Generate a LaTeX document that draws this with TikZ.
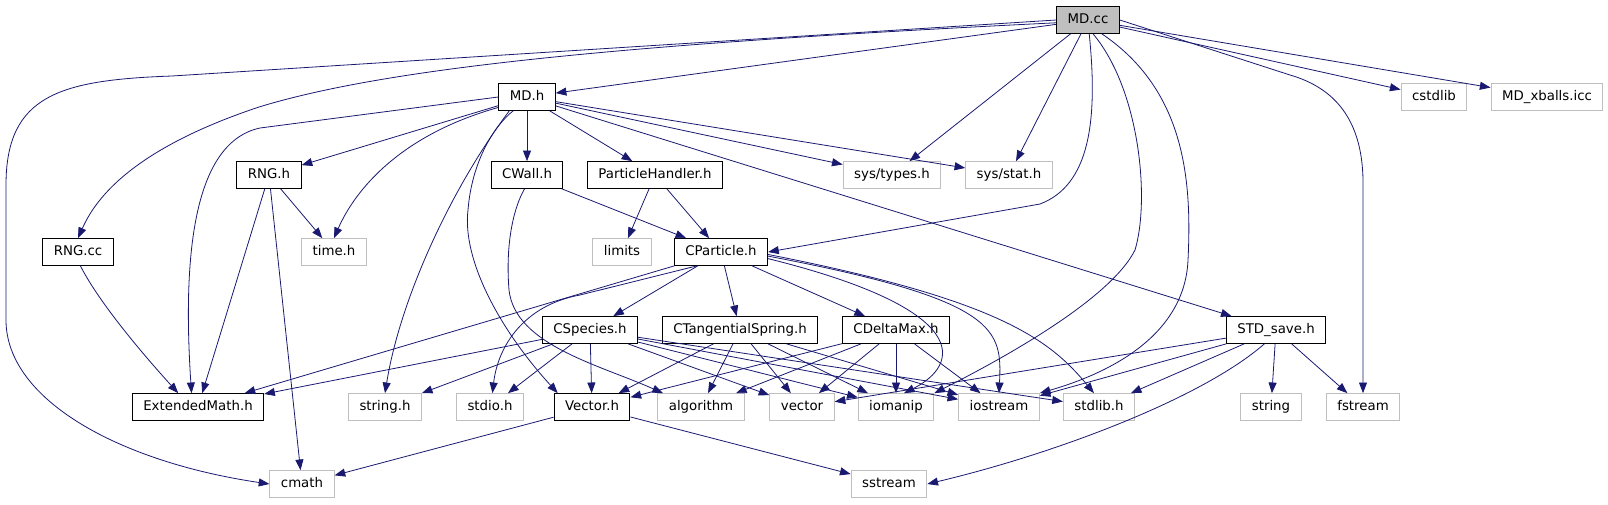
\documentclass[tikz,border=0pt]{standalone}
\usepackage{fontspec}
\setmainfont{DejaVu Sans}
\usepackage{tikz}
\usetikzlibrary{positioning, calc, arrows.meta}
\definecolor{edgeblue}{RGB}{25,25,112}
\definecolor{extgray}{RGB}{191,191,191}
\definecolor{rootgray}{RGB}{191,191,191}

\begin{document}
\begin{tikzpicture}[x=0.75pt, y=-0.75pt,
    >={Triangle[length=8pt,width=6pt]},
    file/.style={draw=black, fill=white, line width=.75pt, font=\fontsize{10}{12}\selectfont,
      inner xsep=8.25pt, inner ysep=0pt, minimum height=20pt, text height=7.5pt, text depth=2pt},
    ext/.style={file, draw=extgray},
    root/.style={file, fill=rootgray},
    dep/.style={<-, draw=edgeblue, line width=.6pt}]
      \useasboundingbox (0,0) rectangle (1608,504);

      \node[root] (INC1) at (1088,20) {MD.cc};

      \node[file] (INC2) at (527,97) {MD.h};
      \node[ext] (INC3) at (1434,97) {cstdlib};
      \node[ext] (INC4) at (1547,97) {MD\_xballs.icc};

      \node[file] (INC5) at (269,175) {RNG.h};
      \node[file] (INC6) at (527,175) {CWall.h};
      \node[file] (INC7) at (655,175) {ParticleHandler.h};
      \node[ext] (INC8) at (892,175) {sys/types.h};
      \node[ext] (INC9) at (1009,175) {sys/stat.h};

      \node[file] (INC10) at (78,252) {RNG.cc};
      \node[ext] (INC11) at (334,252) {time.h};
      \node[ext] (INC12) at (622,252) {limits};
      \node[file] (INC13) at (721,252) {CParticle.h};

      \node[file] (INC14) at (590,330) {CSpecies.h};
      \node[file] (INC15) at (740,330) {CTangentialSpring.h};
      \node[file] (INC16) at (896,330) {CDeltaMax.h};
      \node[file] (INC17) at (1276,330) {STD\_save.h};

      \node[file] (INC18) at (198,407) {ExtendedMath.h};
      \node[ext] (INC19) at (385,407) {string.h};
      \node[ext] (INC20) at (490,407) {stdio.h};
      \node[file] (INC21) at (592,407) {Vector.h};
      \node[ext] (INC22) at (701,407) {algorithm};
      \node[ext] (INC23) at (802,407) {vector};
      \node[ext] (INC24) at (896,407) {iomanip};
      \node[ext] (INC25) at (999,407) {iostream};
      \node[ext] (INC26) at (1099,407) {stdlib.h};
      \node[ext] (INC27) at (1271,407) {string};
      \node[ext] (INC28) at (1363,407) {fstream};

      \node[ext] (INC29) at (302,484) {cmath};
      \node[ext] (INC30) at (889,484) {sstream};

      % MD.cc
      \draw[dep] (node cs:name=INC2) -- (node cs:name=INC1);
      \draw[dep] (node cs:name=INC29, anchor=west) .. controls (120,462) and (6,400) .. (6,320) -- (6,185) .. controls (6,95) and (60,80) .. (172,76) -- (node cs:name=INC1, anchor=west);
      \draw[dep] (node cs:name=INC10, anchor=north) .. controls (95,200) and (130,150) .. (259,107) .. controls (380,70) and (600,45) .. (node cs:name=INC1, angle=185);
      \draw[dep] (node cs:name=INC8) -- (node cs:name=INC1);
      \draw[dep] (node cs:name=INC9) -- (node cs:name=INC1);
      \draw[dep] (node cs:name=INC13, anchor=east) -- (1040,204) .. controls (1090,185) and (1098,120) .. (node cs:name=INC1, angle=-85);
      \draw[dep] (node cs:name=INC24, anchor=north east) .. controls (1000,360) and (1110,300) .. (1135,250) .. controls (1150,200) and (1140,90) .. (node cs:name=INC1, angle=-70);
      \draw[dep] (node cs:name=INC25, anchor=north east) .. controls (1120,370) and (1185,330) .. (1188,260) .. controls (1192,180) and (1185,90) .. (node cs:name=INC1, angle=-45);
      \draw[dep] (node cs:name=INC28) -- (1363,180) .. controls (1362,120) and (1335,88) .. (1290,75) -- (node cs:name=INC1, anchor=east);
      \draw[dep] (node cs:name=INC3) -- (node cs:name=INC1);
      \draw[dep] (node cs:name=INC4) -- (node cs:name=INC1);

      % MD.h
      \draw[dep] (node cs:name=INC5) -- (node cs:name=INC2);
      \draw[dep] (node cs:name=INC11, anchor=north) .. controls (355,190) and (400,135) .. (node cs:name=INC2, angle=200);
      \draw[dep] (node cs:name=INC18, angle=115) .. controls (182,250) and (195,142) .. (260,128) -- (node cs:name=INC2, anchor=west);
      \draw[dep] (node cs:name=INC19, anchor=north) .. controls (400,300) and (450,190) .. (node cs:name=INC2, angle=218);
      \draw[dep] (node cs:name=INC21, angle=158) .. controls (500,330) and (462,260) .. (468,210) .. controls (472,160) and (495,125) .. (node cs:name=INC2, angle=225);
      \draw[dep] (node cs:name=INC6) -- (node cs:name=INC2);
      \draw[dep] (node cs:name=INC7) -- (node cs:name=INC2);
      \draw[dep] (node cs:name=INC8) -- (node cs:name=INC2);
      \draw[dep] (node cs:name=INC9) -- (node cs:name=INC2);
      \draw[dep] (node cs:name=INC17) -- (node cs:name=INC2);

      % RNG.h, RNG.cc
      \draw[dep] (node cs:name=INC18) -- (node cs:name=INC5);
      \draw[dep] (node cs:name=INC29) -- (node cs:name=INC5);
      \draw[dep] (node cs:name=INC11) -- (node cs:name=INC5);
      \draw[dep] (node cs:name=INC18, angle=145) .. controls (130,340) and (95,295) .. (node cs:name=INC10, angle=-80);

      % CWall.h, ParticleHandler.h
      \draw[dep] (node cs:name=INC13) -- (node cs:name=INC6);
      \draw[dep] (node cs:name=INC22, angle=160) .. controls (600,365) and (515,345) .. (509,290) .. controls (505,240) and (515,205) .. (node cs:name=INC6, angle=-100);
      \draw[dep] (node cs:name=INC12) -- (node cs:name=INC7);
      \draw[dep] (node cs:name=INC13) -- (node cs:name=INC7);

      % CParticle.h
      \draw[dep] (node cs:name=INC18) -- (node cs:name=INC13);
      \draw[dep] (node cs:name=INC20, angle=80) .. controls (498,345) and (525,305) .. (580,295) -- (node cs:name=INC13, angle=-150);
      \draw[dep] (node cs:name=INC14) -- (node cs:name=INC13);
      \draw[dep] (node cs:name=INC15) -- (node cs:name=INC13);
      \draw[dep] (node cs:name=INC16) -- (node cs:name=INC13);
      \draw[dep] (node cs:name=INC24, angle=60) .. controls (960,365) and (975,310) .. (node cs:name=INC13, angle=-8);
      \draw[dep] (node cs:name=INC25, anchor=north) .. controls (1002,330) and (1000,300) .. (node cs:name=INC13, angle=-5);
      \draw[dep] (node cs:name=INC26, angle=110) .. controls (1050,340) and (1000,300) .. (node cs:name=INC13, angle=-3);

      % CSpecies.h
      \draw[dep] (node cs:name=INC18) -- (node cs:name=INC14);
      \draw[dep] (node cs:name=INC19) -- (node cs:name=INC14);
      \draw[dep] (node cs:name=INC20) -- (node cs:name=INC14);
      \draw[dep] (node cs:name=INC21) -- (node cs:name=INC14);
      \draw[dep] (node cs:name=INC23) -- (node cs:name=INC14);
      \draw[dep] (node cs:name=INC24) -- (node cs:name=INC14);
      \draw[dep] (node cs:name=INC25) -- (node cs:name=INC14);
      \draw[dep] (node cs:name=INC26) -- (node cs:name=INC14);

      % CTangentialSpring.h
      \draw[dep] (node cs:name=INC21) -- (node cs:name=INC15);
      \draw[dep] (node cs:name=INC22) -- (node cs:name=INC15);
      \draw[dep] (node cs:name=INC23) -- (node cs:name=INC15);
      \draw[dep] (node cs:name=INC24) -- (node cs:name=INC15);
      \draw[dep] (node cs:name=INC25) -- (node cs:name=INC15);

      % CDeltaMax.h
      \draw[dep] (node cs:name=INC21) -- (node cs:name=INC16);
      \draw[dep] (node cs:name=INC22) -- (node cs:name=INC16);
      \draw[dep] (node cs:name=INC23) -- (node cs:name=INC16);
      \draw[dep] (node cs:name=INC24) -- (node cs:name=INC16);
      \draw[dep] (node cs:name=INC25) -- (node cs:name=INC16);

      % STD_save.h
      \draw[dep] (node cs:name=INC23) -- (node cs:name=INC17);
      \draw[dep] (node cs:name=INC25) -- (node cs:name=INC17);
      \draw[dep] (node cs:name=INC26) -- (node cs:name=INC17);
      \draw[dep] (node cs:name=INC27) -- (node cs:name=INC17);
      \draw[dep] (node cs:name=INC28) -- (node cs:name=INC17);
      \draw[dep] (node cs:name=INC30, anchor=east) .. controls (1050,455) and (1200,400) .. (node cs:name=INC17, angle=-130);

      % Vector.h
      \draw[dep] (node cs:name=INC29) -- (node cs:name=INC21);
      \draw[dep] (node cs:name=INC30) -- (node cs:name=INC21);
    \end{tikzpicture}
\end{document}
